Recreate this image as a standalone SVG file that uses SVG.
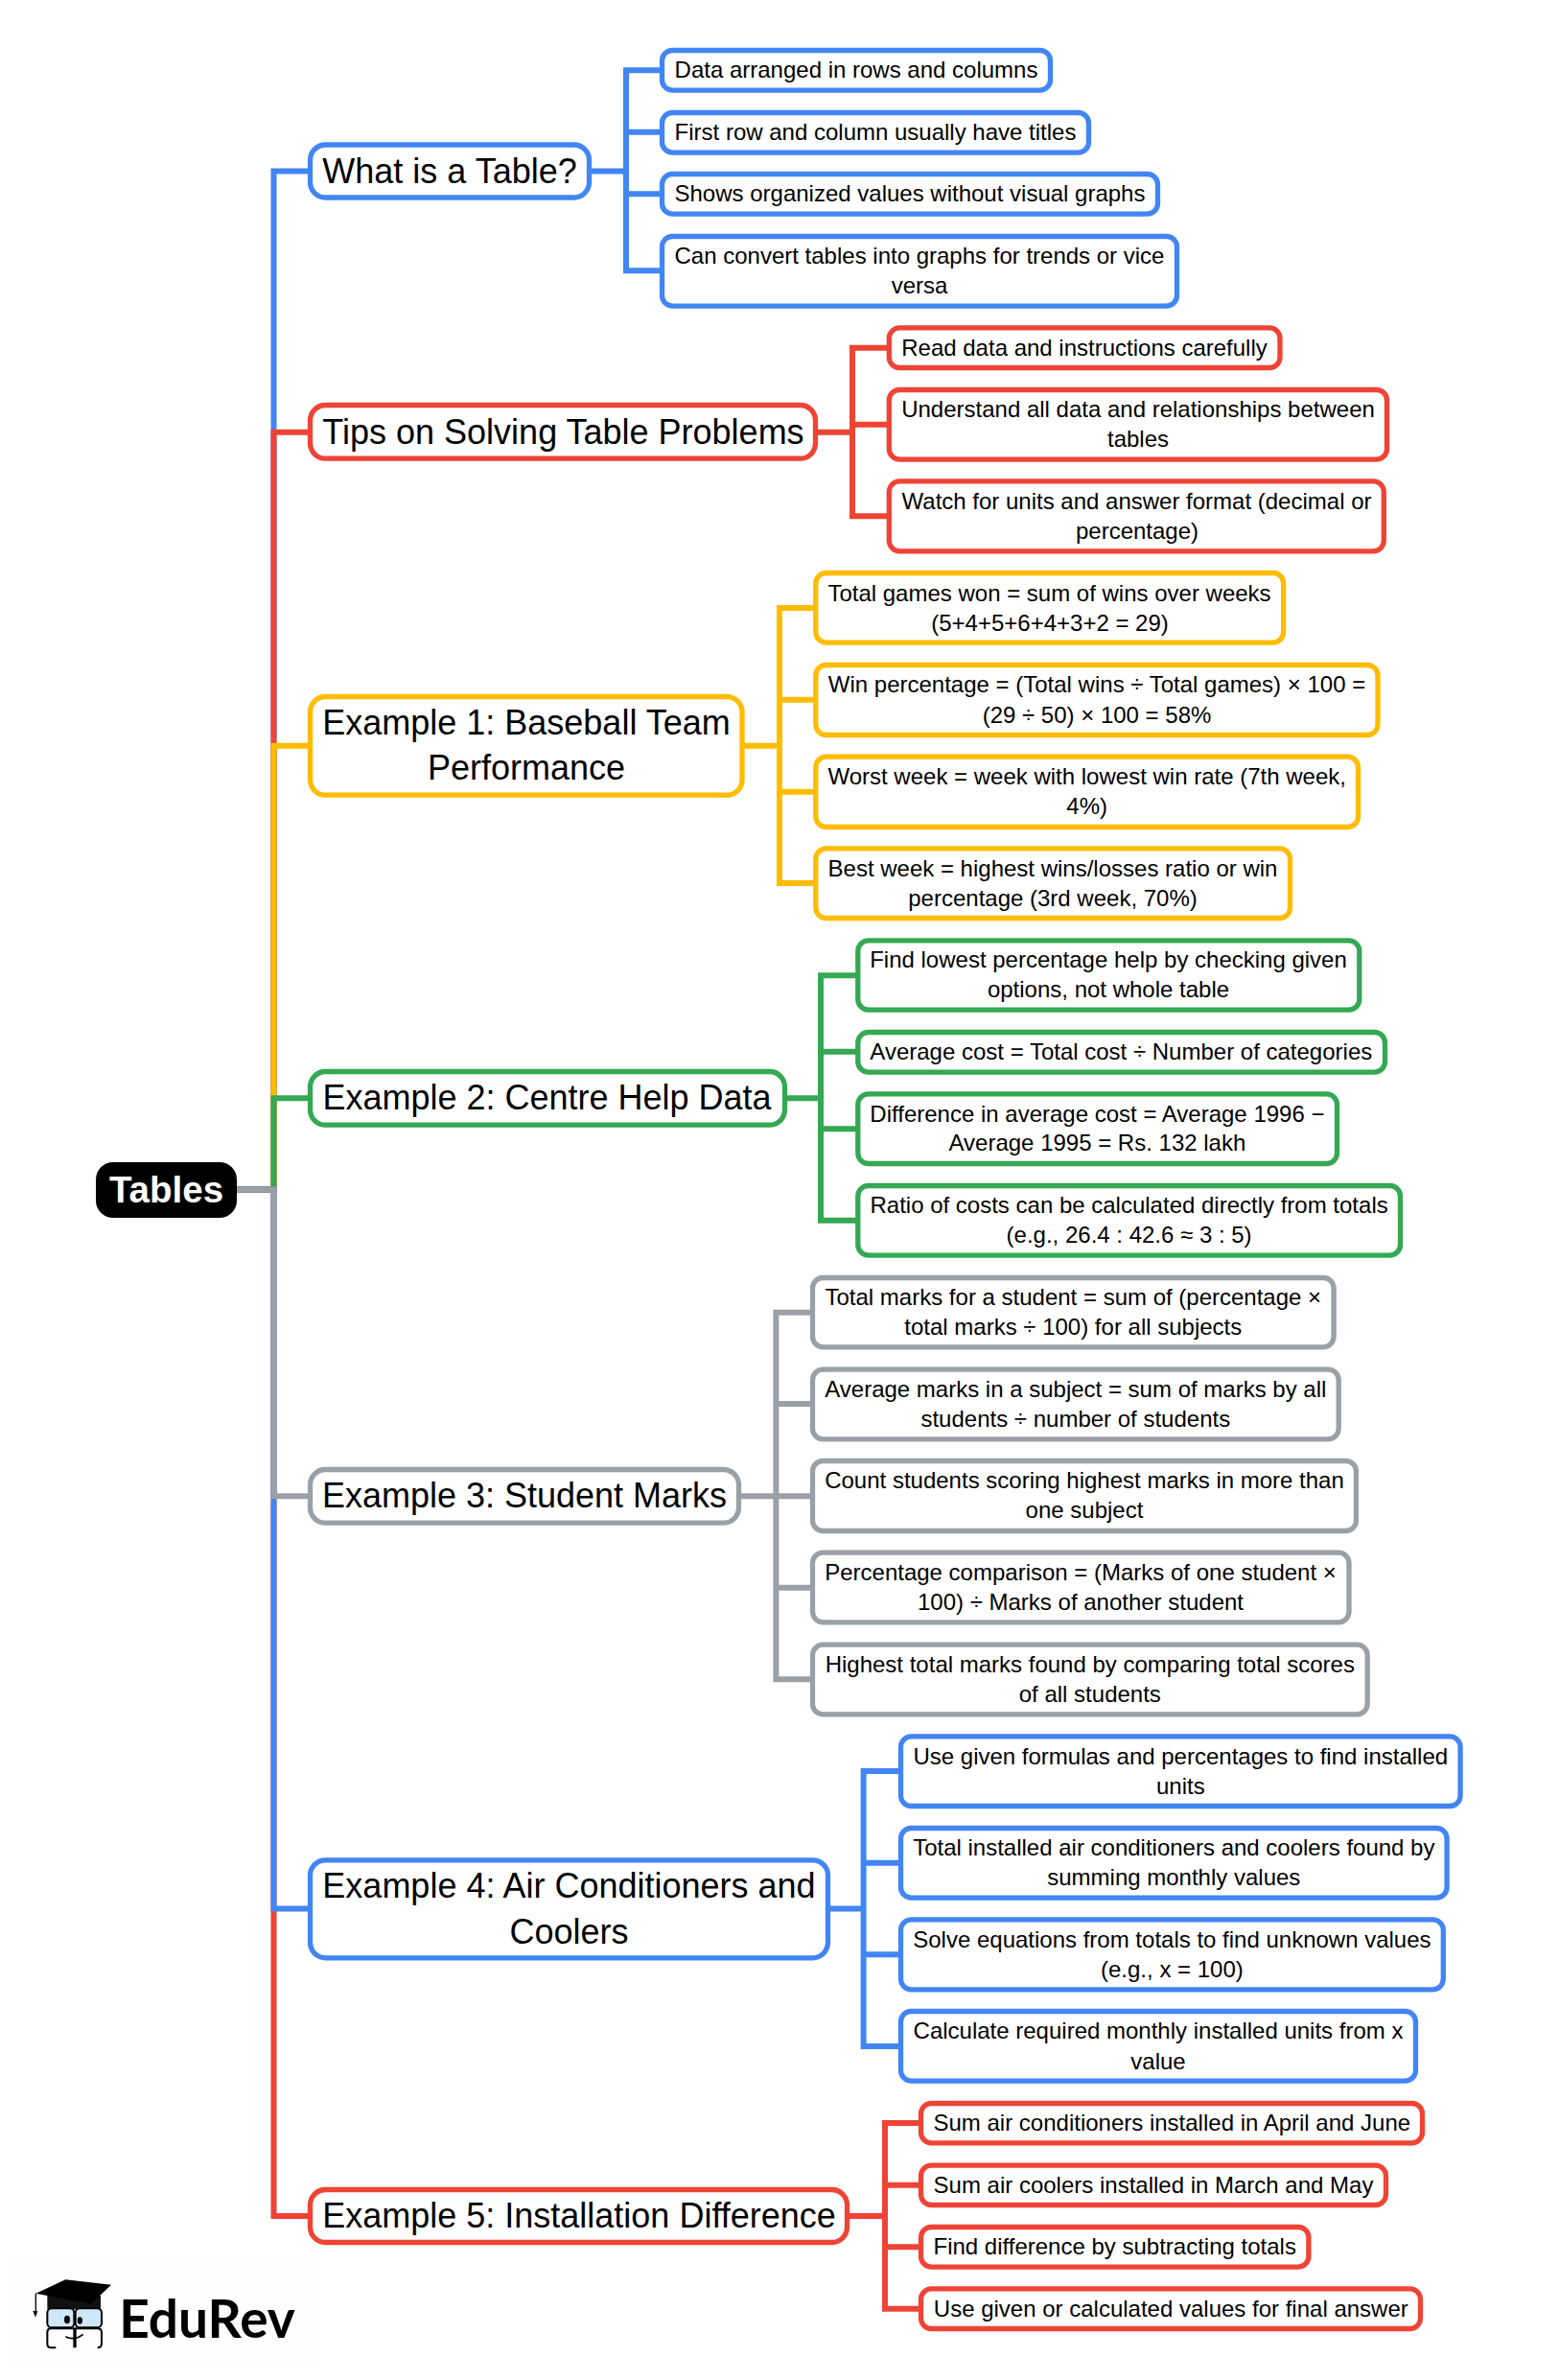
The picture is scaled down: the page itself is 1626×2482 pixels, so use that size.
<svg xmlns="http://www.w3.org/2000/svg" width="1626" height="2482" viewBox="0 0 1626 2482">
<style>
text{font-family:"Liberation Sans",Arial,sans-serif;fill:#000;text-anchor:middle}
.l1 text{font-size:36px}
.l2 text{font-size:24px}
rect{fill:#fff;stroke-width:5.3}
.l2 rect{rx:11px;ry:11px}
.l1 rect{rx:16px;ry:16px}
path{fill:none;stroke-width:6;stroke-linejoin:miter}
.b rect{stroke:#4285f4}.b path,path.b{stroke:#4285f4}
.r rect{stroke:#ee4436}.r path,path.r{stroke:#ee4436}
.y rect{stroke:#ffbc00}.y path,path.y{stroke:#ffbc00}
.g rect{stroke:#34a853}.g path,path.g{stroke:#34a853}
.k rect{stroke:#9aa0a6}.k path,path.k{stroke:#9aa0a6}
</style>
<g id="connectors">
<path class="b" d="M247 1240.5H285.5V178.5H322"/>
<path class="r" d="M247 1240.5H285.5V450.8H322"/>
<path class="y" d="M247 1240.5H285.5V777.8H322"/>
<path class="g" d="M247 1240.5H285.5V1145.3H322"/>
<path class="r" d="M247 1240.5H285.5V2311H322"/>
<path class="b" d="M247 1240.5H285.5V1990.5H322"/>
<path class="k" d="M247 1240.5H285.5V1560.3H322"/>
<path class="b" d="M617 178.5H653M689 73.3H653V282.3H689M653 137.7H689M653 202.3H689"/>
<path class="r" d="M853 450.8H889M926 362.7H889V538.3H926M889 442.7H926"/>
<path class="y" d="M776 777.8H813M850 634H813V921H850M813 729.7H850M813 825.7H850"/>
<path class="g" d="M821 1145.3H856M894 1017.3H856V1272.7H894M856 1096.7H894M856 1177.3H894"/>
<path class="k" d="M773 1560.3H809.4M847 1368.7H809.4V1751.3H847M809.4 1464H847M809.4 1560.3H847M809.4 1655.7H847"/>
<path class="b" d="M865.5 1990.5H900.6M939 1847H900.6V2134H939M900.6 1942.7H939M900.6 2038.3H939"/>
<path class="r" d="M886 2311H923M960 2214H923V2407.7H960M923 2278.7H960M923 2343.3H960"/>
</g>
<g id="root"><rect x="100" y="1212" width="147" height="58" rx="18" ry="18" style="fill:#000;stroke:#000;stroke-width:0"/><text x="173.5" y="1254" font-size="38.5" font-weight="700" style="fill:#fff">Tables</text></g>
<g id="what" class="l1 b"><rect x="323.5" y="151" width="291" height="55"/><text x="469" y="190.5">What is a Table?</text></g>
<g id="tips" class="l1 r"><rect x="323.5" y="422.5" width="527" height="55.7"/><text x="587.5" y="463">Tips on Solving Table Problems</text></g>
<g id="ex1" class="l1 y"><rect x="323.5" y="726.5" width="450.5" height="102.7"/><text x="549" y="765.5">Example 1: Baseball Team</text><text x="549" y="813">Performance</text></g>
<g id="ex2" class="l1 g"><rect x="323.5" y="1117.5" width="495" height="55.7"/><text x="570.5" y="1157">Example 2: Centre Help Data</text></g>
<g id="ex3" class="l1 k"><rect x="323.5" y="1532.5" width="447" height="55.7"/><text x="547" y="1572">Example 3: Student Marks</text></g>
<g id="ex4" class="l1 b"><rect x="323.5" y="1939.8" width="540" height="102"/><text x="593.5" y="1979">Example 4: Air Conditioners and</text><text x="593.5" y="2026.5">Coolers</text></g>
<g id="ex5" class="l1 r"><rect x="323.5" y="2283.5" width="560" height="55"/><text x="604" y="2323">Example 5: Installation Difference</text></g>
<g class="l2 b">
<g id="w1"><rect x="690.5" y="52.5" width="405" height="41.7"/><text x="893" y="81.3">Data arranged in rows and columns</text></g>
<g id="w2"><rect x="690.5" y="117.5" width="445" height="41.7"/><text x="913" y="145.7">First row and column usually have titles</text></g>
<g id="w3"><rect x="690.5" y="181.5" width="517" height="41.7"/><text x="949" y="210.3">Shows organized values without visual graphs</text></g>
<g id="w4"><rect x="690.5" y="246.5" width="537" height="72.7"/><text x="959" y="275.3">Can convert tables into graphs for trends or vice</text><text x="959" y="306.3">versa</text></g>
</g>
<g class="l2 r">
<g id="t1"><rect x="927.3" y="341.8" width="407.7" height="41.7"/><text x="1131" y="370.7">Read data and instructions carefully</text></g>
<g id="t2"><rect x="927.3" y="406.5" width="519.2" height="72.7"/><text x="1187" y="435.3">Understand all data and relationships between</text><text x="1187" y="466.3">tables</text></g>
<g id="t3"><rect x="927.3" y="501.8" width="516" height="73"/><text x="1185.5" y="530.8">Watch for units and answer format (decimal or</text><text x="1186" y="561.8">percentage)</text></g>
</g>
<g class="l2 y">
<g id="y1"><rect x="850.8" y="597.5" width="487.8" height="72.7"/><text x="1094.5" y="627.2">Total games won = sum of wins over weeks</text><text x="1095" y="658.2">(5+4+5+6+4+3+2 = 29)</text></g>
<g id="y2"><rect x="850.8" y="693.5" width="586.2" height="73"/><text x="1144" y="722">Win percentage = (Total wins ÷ Total games) × 100 =</text><text x="1144" y="753.5">(29 ÷ 50) × 100 = 58%</text></g>
<g id="y3"><rect x="850.8" y="789.2" width="565.7" height="73.3"/><text x="1133.7" y="818.3">Worst week = week with lowest win rate (7th week,</text><text x="1133.7" y="849.3">4%)</text></g>
<g id="y4"><rect x="850.8" y="884.8" width="494.7" height="72.7"/><text x="1098" y="913.7">Best week = highest wins/losses ratio or win</text><text x="1098" y="944.7">percentage (3rd week, 70%)</text></g>
</g>
<g class="l2 g">
<g id="g1"><rect x="894.8" y="980.8" width="523" height="72.4"/><text x="1156" y="1009">Find lowest percentage help by checking given</text><text x="1156" y="1040">options, not whole table</text></g>
<g id="g2"><rect x="894.8" y="1076.5" width="549.7" height="41.7"/><text x="1169.3" y="1105.3">Average cost = Total cost ÷ Number of categories</text></g>
<g id="g3"><rect x="894.8" y="1140.8" width="499.7" height="72.7"/><text x="1144.4" y="1169.7">Difference in average cost = Average 1996 −</text><text x="1144.4" y="1200.3">Average 1995 = Rs. 132 lakh</text></g>
<g id="g4"><rect x="894.8" y="1236.5" width="565.7" height="72.7"/><text x="1177.6" y="1265.3">Ratio of costs can be calculated directly from totals</text><text x="1177.6" y="1296.3">(e.g., 26.4 : 42.6 ≈ 3 : 5)</text></g>
</g>
<g class="l2 k">
<g id="k1"><rect x="847.5" y="1332.5" width="543.6" height="72.3"/><text x="1119.3" y="1361.2">Total marks for a student = sum of (percentage ×</text><text x="1119.3" y="1392.2">total marks ÷ 100) for all subjects</text></g>
<g id="k2"><rect x="847.5" y="1428.2" width="548.7" height="72.6"/><text x="1121.8" y="1457">Average marks in a subject = sum of marks by all</text><text x="1121.8" y="1488">students ÷ number of students</text></g>
<g id="k3"><rect x="847.5" y="1523.5" width="567" height="73"/><text x="1131" y="1552">Count students scoring highest marks in more than</text><text x="1131" y="1583">one subject</text></g>
<g id="k4"><rect x="847.5" y="1619.2" width="559.5" height="72.6"/><text x="1127" y="1648">Percentage comparison = (Marks of one student ×</text><text x="1127" y="1679">100) ÷ Marks of another student</text></g>
<g id="k5"><rect x="847.5" y="1715.2" width="578.7" height="72.6"/><text x="1136.8" y="1744">Highest total marks found by comparing total scores</text><text x="1136.8" y="1775">of all students</text></g>
</g>
<g class="l2 b">
<g id="b1"><rect x="939.5" y="1810.8" width="583.6" height="72.7"/><text x="1231.3" y="1839.7">Use given formulas and percentages to find installed</text><text x="1231.3" y="1870.7">units</text></g>
<g id="b2"><rect x="939.5" y="1906.5" width="569.6" height="72.7"/><text x="1224.3" y="1935.3">Total installed air conditioners and coolers found by</text><text x="1224.3" y="1966.3">summing monthly values</text></g>
<g id="b3"><rect x="939.5" y="2001.8" width="565.8" height="73"/><text x="1222.4" y="2030.8">Solve equations from totals to find unknown values</text><text x="1222.4" y="2061.8">(e.g., x = 100)</text></g>
<g id="b4"><rect x="939.5" y="2097.5" width="537" height="72.7"/><text x="1208" y="2126.3">Calculate required monthly installed units from x</text><text x="1208" y="2157.8">value</text></g>
</g>
<g class="l2 r">
<g id="r1"><rect x="960.5" y="2193.5" width="523" height="41.3"/><text x="1222.3" y="2222">Sum air conditioners installed in April and June</text></g>
<g id="r2"><rect x="960.5" y="2258.2" width="485" height="41.3"/><text x="1203" y="2286.8">Sum air coolers installed in March and May</text></g>
<g id="r3"><rect x="960.5" y="2322.5" width="404.4" height="41.7"/><text x="1162.7" y="2351.3">Find difference by subtracting totals</text></g>
<g id="r4"><rect x="960.5" y="2386.8" width="521" height="41.7"/><text x="1221.3" y="2415.7">Use given or calculated values for final answer</text></g>
</g>
<g id="logo">
<rect x="10" y="2353" width="323" height="115" style="fill:#fefefe;stroke:none"/>
<g transform="translate(0 2250) scale(.3333)">
<path d="M148 432H315V475H148Z" style="fill:#111;stroke:none"/>
<path d="M205 382L348 398L285 458L112 425Z" style="fill:#000;stroke:none"/>
<path d="M112 425V480" style="stroke:#000;stroke-width:4"/>
<path d="M103 480L118 480L111 500Z" style="fill:#000;stroke:none"/>
<rect x="148" y="472" width="84" height="60" rx="14" ry="14" style="fill:#cfe8f8;stroke:#000;stroke-width:6"/>
<rect x="236" y="472" width="82" height="60" rx="14" ry="14" style="fill:#cfe8f8;stroke:#000;stroke-width:6"/>
<path d="M175 595H160Q148 595 148 582V548Q148 535 160 535H232V595M318 548V582Q318 595 305 595M318 548Q318 535 305 535H236V595" style="stroke:#000;stroke-width:6"/>
<path d="M205 560Q232 575 260 553" style="stroke:#000;stroke-width:5"/>
<ellipse cx="210" cy="507" rx="9" ry="13" style="fill:#000"/>
<ellipse cx="250" cy="510" rx="8" ry="11" style="fill:#000"/>
</g>
<text x="216" y="2438" font-size="55" font-weight="700" style="font-family:Lato,sans-serif">EduRev</text>
</g>
</svg>
